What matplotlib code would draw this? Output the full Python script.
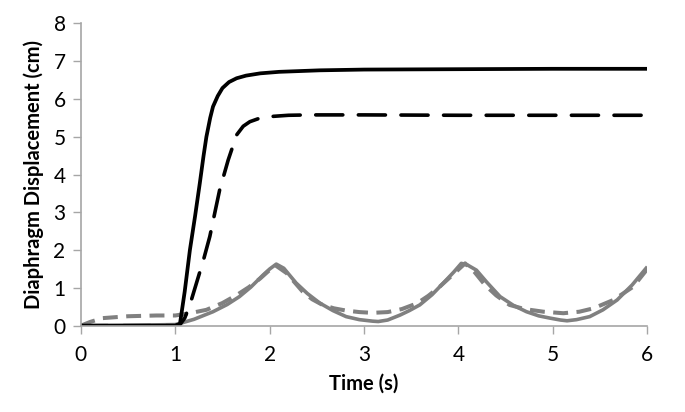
import numpy as np
import matplotlib.pyplot as plt

plt.rcParams['font.family'] = ['Lato', 'DejaVu Sans']

# black solid
t_bs = [0, 0.5, 1.0, 1.05, 1.10, 1.155, 1.21, 1.26, 1.30, 1.33, 1.37, 1.40, 1.45, 1.50,
        1.57, 1.65, 1.75, 1.90, 2.1, 2.53, 3.0, 4.0, 5.0, 6.0]
y_bs = [0, 0, 0, 0.05, 0.9, 2.0, 2.9, 3.77, 4.5, 5.0, 5.5, 5.8, 6.08, 6.29,
        6.45, 6.55, 6.62, 6.68, 6.72, 6.76, 6.78, 6.79, 6.80, 6.80]

# black dashed
t_bd = [0, 0.5, 1.0, 1.05, 1.10, 1.155, 1.225, 1.30, 1.366, 1.42, 1.47, 1.56, 1.65,
        1.72, 1.79, 1.88, 1.97, 2.2, 2.43, 3.0, 4.0, 5.0, 6.0]
y_bd = [0, 0, 0, 0.03, 0.2, 0.55, 1.13, 1.75, 2.36, 3.0, 3.59, 4.38, 5.05,
        5.28, 5.40, 5.48, 5.53, 5.57, 5.58, 5.58, 5.57, 5.57, 5.57]

# grey solid
t_gs = [0, 0.5, 1.0, 1.05, 1.2, 1.40, 1.55, 1.68, 1.80, 1.93, 2.0, 2.07, 2.15, 2.28,
        2.40, 2.53, 2.67, 2.81, 2.95, 3.09, 3.15, 3.25, 3.38, 3.48, 3.59, 3.72,
        3.84, 3.95, 4.03, 4.10, 4.19, 4.30, 4.44, 4.58, 4.72, 4.85, 4.97, 5.08,
        5.15, 5.25, 5.39, 5.53, 5.68, 5.84, 6.0]
y_gs = [0, 0.01, 0.03, 0.06, 0.17, 0.37, 0.56, 0.77, 1.02, 1.34, 1.5, 1.63, 1.52, 1.13,
        0.85, 0.6, 0.4, 0.24, 0.16, 0.12, 0.11, 0.15, 0.28, 0.40, 0.55, 0.82,
        1.13, 1.42, 1.65, 1.6, 1.47, 1.15, 0.77, 0.54, 0.37, 0.26, 0.2, 0.15,
        0.13, 0.16, 0.24, 0.42, 0.68, 1.08, 1.56]

# grey dashed
t_gd = [0, 0.1, 0.23, 0.5, 0.8, 1.0, 1.155, 1.33, 1.50, 1.65, 1.78, 1.90, 1.98, 2.06,
        2.18, 2.35, 2.45, 2.56, 2.68, 2.81, 2.95, 3.09, 3.25, 3.40, 3.56, 3.68,
        3.80, 3.94, 4.07, 4.17, 4.28, 4.40, 4.54, 4.70, 4.90, 5.11, 5.28, 5.43,
        5.64, 5.85, 6.0]
y_gd = [0, 0.1, 0.2, 0.25, 0.27, 0.27, 0.33, 0.42, 0.6, 0.81, 1.02, 1.25, 1.43, 1.6,
        1.39, 0.9, 0.7, 0.55, 0.46, 0.4, 0.36, 0.34, 0.36, 0.44, 0.59, 0.79,
        1.03, 1.35, 1.65, 1.42, 1.08, 0.8, 0.55, 0.44, 0.37, 0.33, 0.37, 0.46,
        0.68, 1.03, 1.5]

x_ticks = np.arange(0, 7, 1)
y_ticks = np.arange(0, 9, 1)

fig = plt.figure(figsize=(6.85, 4.12), dpi=100)
ax = fig.add_axes([0.118, 0.2095, 0.827, 0.7335])

grey = '#808080'
ax.plot(t_gs, y_gs, color=grey, lw=2.6, solid_capstyle='butt')
ax.plot(t_gd, y_gd, color=grey, lw=2.9, dashes=(3.7, 2.1), dash_capstyle='butt')
ax.plot(t_bs, y_bs, color='black', lw=2.7)
ax.plot(t_bd, y_bd, color='black', lw=2.6, dashes=(7.5, 4.3), dash_capstyle='round')

ax.set_xlim(0, 6)
ax.set_ylim(0, 8)
ax.set_xticks(x_ticks)
ax.set_yticks(y_ticks)
ax.tick_params(direction='out', length=6, width=1, color='#a6a6a6', labelsize=15,
               pad=5)
ax.tick_params(axis='x', pad=8)
for s in ['top', 'right']:
    ax.spines[s].set_visible(False)
for s in ['left', 'bottom']:
    ax.spines[s].set_color('#a6a6a6')
    ax.spines[s].set_linewidth(1.2)

ax.set_xlabel('Time (s)', fontsize=14.5, fontweight='bold', labelpad=6)
ax.set_ylabel('Diaphragm Displacement (cm)', fontsize=14.5, fontweight='bold',
              labelpad=7)
for lbl in ax.get_xticklabels() + ax.get_yticklabels():
    lbl.set_clip_on(False)

fig.savefig('out.png', dpi=100)
